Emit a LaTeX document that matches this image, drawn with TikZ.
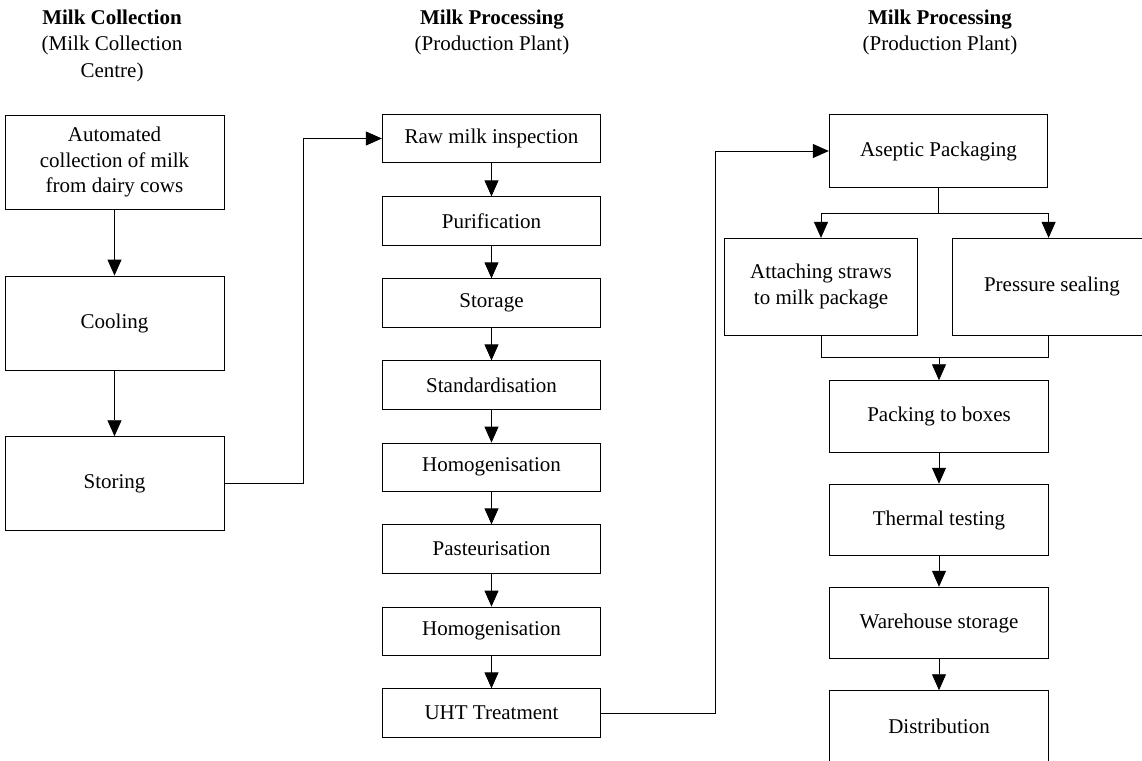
\documentclass[tikz,border=0pt]{standalone}
\usepackage{fontspec}
\setmainfont{Liberation Serif}
\usetikzlibrary{arrows.meta}
\begin{document}
\begin{tikzpicture}[x=1bp,y=-1bp]
      \tikzstyle{stage}=[draw,line width=0.9bp,align=center,inner sep=0pt,
                         font=\fontsize{21bp}{25.7bp}\selectfont]
      \tikzstyle{head}=[align=center,inner sep=0pt,anchor=north,
                        font=\fontsize{21bp}{26.5bp}\selectfont]
      \tikzstyle{flow}=[line width=0.9bp,-{Triangle[length=16bp,width=14bp]}]
      \useasboundingbox (0,0) rectangle (1142,761);
      \clip (0,0) rectangle (1142,761);

      \node[head] (h_coll) at (112,9.5) {\textbf{Milk Collection}\\(Milk Collection\\Centre)};
      \node[head] (h_proc) at (492,9.5) {\textbf{Milk Processing}\\(Production Plant)};
      \node[head] (h_pack) at (940,9.5) {\textbf{Milk Processing}\\(Production Plant)};

      % collection centre
      \node[stage,minimum width=219bp,minimum height=94bp] (auto) at (114.5,162)
            {Automated\\collection of milk\\from dairy cows};
      \node[stage,minimum width=219bp,minimum height=94bp] (cool) at (114.5,323) {Cooling};
      \node[stage,minimum width=219bp,minimum height=94bp] (store) at (114.5,483.7) {Storing};
      \draw[flow] (auto) -- (cool);
      \draw[flow] (cool) -- (store);

      % production plant
      \tikzstyle{every node}=[stage,minimum width=218.4bp,minimum height=48.4bp]
      \node (raw) at (491.5,138.5) {Raw milk inspection};
      \node (puri) at (491.5,221) {Purification};
      \node (stor) at (491.5,303) {Storage};
      \node (stand) at (491.5,385) {Standardisation};
      \node (homo) at (491.5,467.3) {Homogenisation};
      \node (past) at (491.5,549) {Pasteurisation};
      \node (homo2) at (491.5,631.3) {Homogenisation};
      \node (uht) at (491.5,713) {UHT Treatment};
      \draw[flow] (store.east) -- ++(79,0) |- (raw.west);
      \draw[flow] (raw) -- (puri);
      \draw[flow] (puri) -- (stor);
      \draw[flow] (stor) -- (stand);
      \draw[flow] (stand) -- (homo);
      \draw[flow] (homo) -- (past);
      \draw[flow] (past) -- (homo2);
      \draw[flow] (homo2) -- (uht);

      % packaging
      \tikzstyle{every node}=[stage,minimum width=218.4bp,minimum height=71.6bp]
      \node[minimum height=73.4bp] (asep) at (938.5,151) {Aseptic Packaging};
      \node[minimum width=192.3bp,minimum height=96.7bp] (straw) at (821,286.7)
            {Attaching straws\\to milk package};
      \node[minimum width=199.4bp,minimum height=96.7bp] (seal) at (1052,286.7) {Pressure sealing};
      \node (box) at (939,416.5) {Packing to boxes};
      \node (therm) at (939,520) {Thermal testing};
      \node (ware) at (939,623) {Warehouse storage};
      \node (dist) at (939,726.5) {Distribution};
      \draw[flow] (uht.east) -- ++(114,0) |- (asep.west);
      \draw (asep.south) -- ++(0,25.6) coordinate (split);
      \draw[flow] (split) -| (straw.north);
      \draw[flow] (split) -| ([xshift=-3.4bp]seal.north);
      \coordinate (merge) at (939,357.3);
      \draw (straw.south) |- (merge) -| ([xshift=-3.4bp]seal.south);
      \draw[flow] (merge) -- (box.north);
      \draw[flow] (box) -- (therm);
      \draw[flow] (therm) -- (ware);
      \draw[flow] (ware) -- (dist);
\end{tikzpicture}
\end{document}
